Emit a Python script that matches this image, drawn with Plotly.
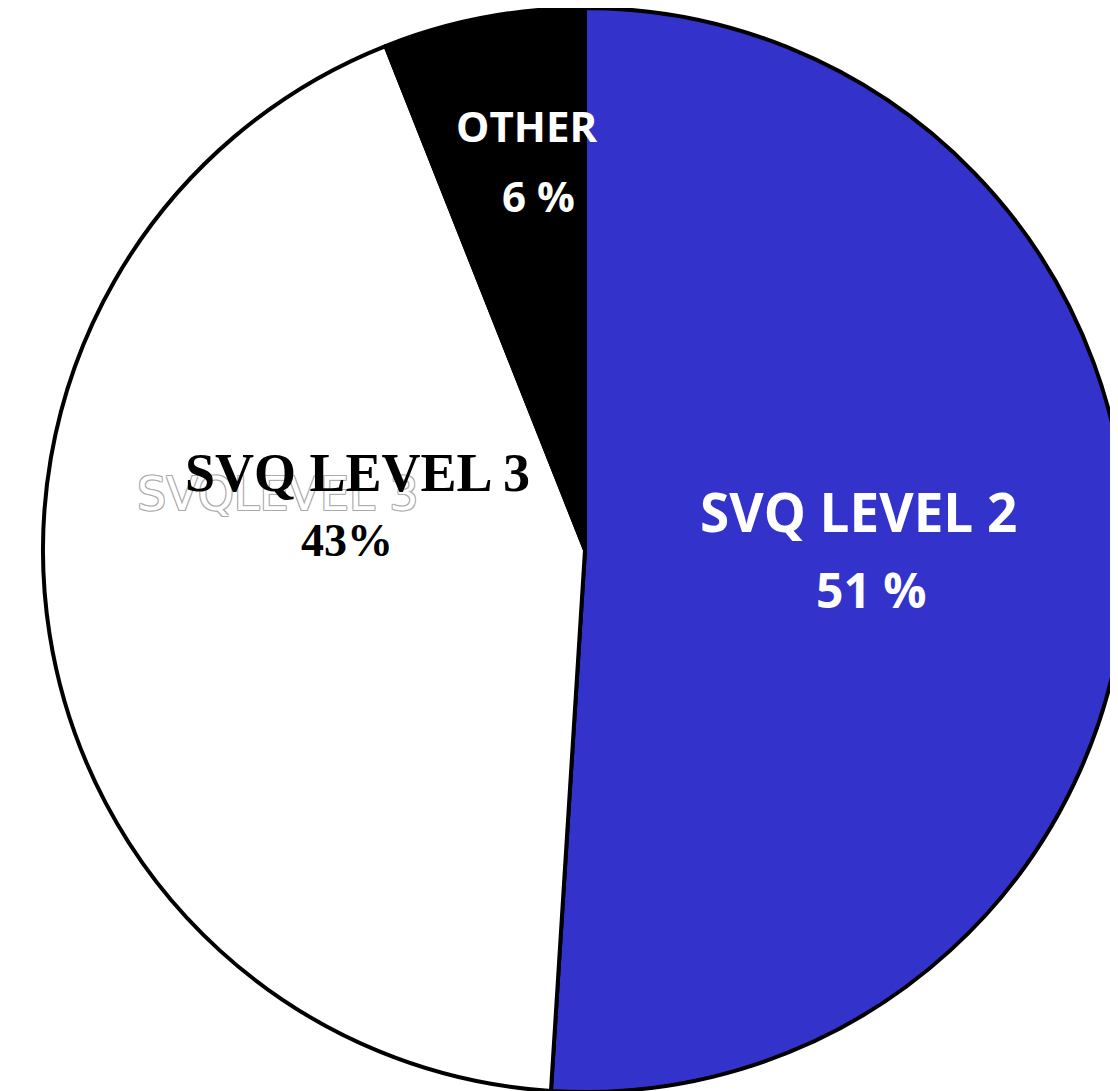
import plotly.graph_objects as go

labels = ["SVQ LEVEL 2", "SVQ LEVEL 3", "OTHER"]
values = [51, 43, 6]
pct_text = ["51 %", "43%", "6 %"]
colors = ["#3333CC", "#FFFFFF", "#000000"]

W, H = 1154, 1084
OFF = 8  # page body margin

fig = go.Figure(go.Pie(
    labels=labels, values=values, sort=False, direction="clockwise", rotation=0,
    marker=dict(colors=colors, line=dict(color="black", width=4)),
    textinfo="none", hoverinfo="label+percent", showlegend=False,
    domain=dict(x=[0, 1], y=[0, 1]),
))

def px(x, y):
    return (x - OFF) / W, 1 - (y - OFF) / H

def add(ann, xy, text, family, size, color, **kw):
    x, y = px(*xy)
    ann.append(dict(x=x, y=y, text=text, showarrow=False, xref="paper", yref="paper",
                    xanchor="center", yanchor="middle",
                    font=dict(family=family, size=size, color=color, **kw)))

ann = []
# ghost text behind SVQ LEVEL 3
add(ann, (278, 494), labels[1].replace("Q ", "Q"), "DejaVu Sans", 46, "white",
    shadow="-1px -1px 0 #aaa, 1px -1px 0 #aaa, -1px 1px 0 #aaa, 1px 1px 0 #aaa")
# SVQ LEVEL 3 (serif, black)
add(ann, (357, 473), "<b>%s</b>" % labels[1], "Liberation Serif", 54, "black")
add(ann, (347, 541), "<b>%s</b>" % pct_text[1], "Liberation Serif", 46, "black")
# SVQ LEVEL 2
add(ann, (858, 512), "<b>%s</b>" % labels[0], "Open Sans", 53, "white")
add(ann, (871, 589), "<b>%s</b>" % pct_text[0], "Open Sans", 48, "white")
# OTHER
add(ann, (526, 125), "<b>%s</b>" % labels[2], "Open Sans", 42, "white")
add(ann, (538, 196), "<b>%s</b>" % pct_text[2], "Open Sans", 42, "white")

fig.update_layout(width=W, height=H, margin=dict(l=0, r=0, t=0, b=0),
                  paper_bgcolor="white", plot_bgcolor="white", annotations=ann)
fig.write_html("out.html")
